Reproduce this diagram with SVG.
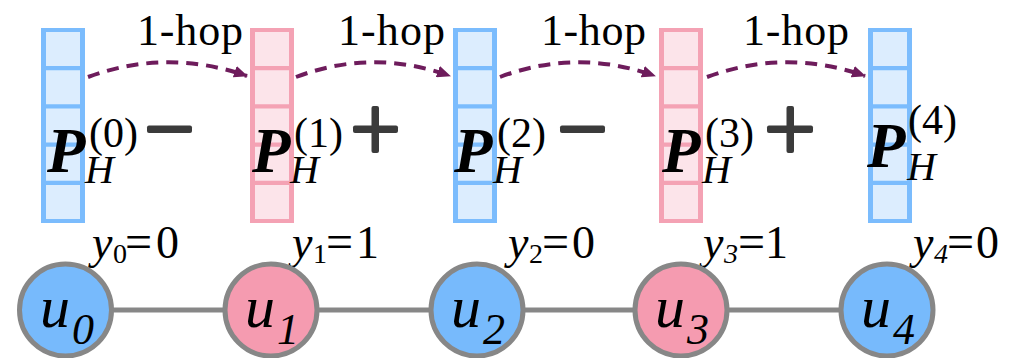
<svg xmlns="http://www.w3.org/2000/svg" width="1030" height="358" viewBox="0 0 1030 358">
<style>
.barB{fill:#7bbcfd}
.barP{fill:#f4a2b4}
.cellB{fill:#dcedfe}
.cellP{fill:#fce4ea}
.arr{fill:none;stroke:#6e1c5c;stroke-width:4;stroke-dasharray:12 8}
.op{fill:#3b3b3b}
.edge{stroke:#878787;stroke-width:5}
.nB{fill:#77bafc;stroke:#878787;stroke-width:5}
.nP{fill:#f59bb0;stroke:#878787;stroke-width:5}
</style>
<defs>
<marker id="ah" viewBox="0 0 14 12" refX="13" refY="6" markerWidth="14" markerHeight="12" markerUnits="userSpaceOnUse" orient="auto">
<path d="M0,0 L14,6 L0,12 z" fill="#6e1c5c"/>
</marker>
<g id="cellsB">
<rect class="cellB" x="5" y="4" width="34" height="34"/>
<rect class="cellB" x="5" y="42.25" width="34" height="34"/>
<rect class="cellB" x="5" y="80.5" width="34" height="34"/>
<rect class="cellB" x="5" y="118.75" width="34" height="34"/>
<rect class="cellB" x="5" y="157" width="34" height="34"/>
</g>
<g id="cellsP">
<rect class="cellP" x="5" y="4" width="34" height="34"/>
<rect class="cellP" x="5" y="42.25" width="34" height="34"/>
<rect class="cellP" x="5" y="80.5" width="34" height="34"/>
<rect class="cellP" x="5" y="118.75" width="34" height="34"/>
<rect class="cellP" x="5" y="157" width="34" height="34"/>
</g>
</defs>

<g id="vec0" transform="translate(41,28)"><rect class="barB" x="0" y="0" width="44" height="195"/><use href="#cellsB"/></g>
<g id="vec1" transform="translate(250,28)"><rect class="barP" x="0" y="0" width="44" height="195"/><use href="#cellsP"/></g>
<g id="vec2" transform="translate(453,28)"><rect class="barB" x="0" y="0" width="44" height="195"/><use href="#cellsB"/></g>
<g id="vec3" transform="translate(659,28)"><rect class="barP" x="0" y="0" width="44" height="195"/><use href="#cellsP"/></g>
<g id="vec4" transform="translate(868,28)"><rect class="barB" x="0" y="0" width="44" height="195"/><use href="#cellsB"/></g>

<g id="connectors">
<path class="arr" d="M88,77 Q167,48 247,76" marker-end="url(#ah)"/>
<path class="arr" d="M296,77 Q373,48 450,76" marker-end="url(#ah)"/>
<path class="arr" d="M500,77 Q577,48 655,76" marker-end="url(#ah)"/>
<path class="arr" d="M707,77 Q786,48 865,76" marker-end="url(#ah)"/>
<line class="edge" x1="112" y1="310" x2="225" y2="310"/>
<line class="edge" x1="317" y1="310" x2="431" y2="310"/>
<line class="edge" x1="523" y1="310" x2="635" y2="310"/>
<line class="edge" x1="727" y1="310" x2="841" y2="310"/>
</g>

<g id="hops">
<text font-family="Liberation Serif" style="font-family:Liberation Serif" font-size="44" x="137" y="45" textLength="106">1-hop</text>
<text font-family="Liberation Serif" style="font-family:Liberation Serif" font-size="44" x="338" y="45" textLength="107">1-hop</text>
<text font-family="Liberation Serif" style="font-family:Liberation Serif" font-size="44" x="541" y="45" textLength="105">1-hop</text>
<text font-family="Liberation Serif" style="font-family:Liberation Serif" font-size="44" x="743" y="45" textLength="106">1-hop</text>
</g>

<g id="label0"><text font-family="Liberation Serif" style="font-family:Liberation Serif"><tspan font-size="63" font-weight="bold" font-style="italic" x="47" y="172">P</tspan><tspan font-size="42" x="89" y="147">(0)</tspan><tspan font-size="40" font-style="italic" x="85" y="183">H</tspan></text></g>
<g id="label1"><text font-family="Liberation Serif" style="font-family:Liberation Serif"><tspan font-size="63" font-weight="bold" font-style="italic" x="252" y="172">P</tspan><tspan font-size="42" x="294" y="147">(1)</tspan><tspan font-size="40" font-style="italic" x="290" y="183">H</tspan></text></g>
<g id="label2"><text font-family="Liberation Serif" style="font-family:Liberation Serif"><tspan font-size="63" font-weight="bold" font-style="italic" x="454" y="172">P</tspan><tspan font-size="42" x="497" y="147">(2)</tspan><tspan font-size="40" font-style="italic" x="493" y="183">H</tspan></text></g>
<g id="label3"><text font-family="Liberation Serif" style="font-family:Liberation Serif"><tspan font-size="63" font-weight="bold" font-style="italic" x="662" y="172">P</tspan><tspan font-size="42" x="705" y="147">(3)</tspan><tspan font-size="40" font-style="italic" x="702" y="183">H</tspan></text></g>
<g id="label4"><text font-family="Liberation Serif" style="font-family:Liberation Serif"><tspan font-size="63" font-weight="bold" font-style="italic" x="867" y="167">P</tspan><tspan font-size="42" x="908" y="134">(4)</tspan><tspan font-size="40" font-style="italic" x="907" y="180">H</tspan></text></g>

<g id="ops">
<rect class="op" x="147" y="125.5" width="45" height="7.5" rx="2"/>
<rect class="op" x="353" y="125.5" width="45" height="7.5" rx="2"/>
<rect class="op" x="371.5" y="106" width="7.5" height="47" rx="2"/>
<rect class="op" x="560" y="125.5" width="45" height="7.5" rx="2"/>
<rect class="op" x="767" y="125.5" width="46" height="7.5" rx="2"/>
<rect class="op" x="786.5" y="106" width="7.5" height="47" rx="2"/>
</g>

<g id="ylabels">
<text font-family="Liberation Serif" style="font-family:Liberation Serif"><tspan font-size="46" font-style="italic" x="92" y="258">y</tspan><tspan font-size="28" x="113" y="263">0</tspan><tspan font-size="48" x="125" y="258">=</tspan><tspan font-size="46" x="156" y="258">0</tspan></text>
<text font-family="Liberation Serif" style="font-family:Liberation Serif"><tspan font-size="46" font-style="italic" x="292" y="258">y</tspan><tspan font-size="28" x="313" y="263">1</tspan><tspan font-size="48" x="326" y="258">=</tspan><tspan font-size="46" x="356" y="258">1</tspan></text>
<text font-family="Liberation Serif" style="font-family:Liberation Serif"><tspan font-size="46" font-style="italic" x="508" y="258">y</tspan><tspan font-size="28" x="529" y="263">2</tspan><tspan font-size="48" x="542" y="258">=</tspan><tspan font-size="46" x="572" y="258">0</tspan></text>
<text font-family="Liberation Serif" style="font-family:Liberation Serif"><tspan font-size="46" font-style="italic" x="703" y="258">y</tspan><tspan font-size="28" font-style="italic" x="724" y="263">3</tspan><tspan font-size="48" x="738" y="258">=</tspan><tspan font-size="46" x="765" y="258">1</tspan></text>
<text font-family="Liberation Serif" style="font-family:Liberation Serif"><tspan font-size="46" font-style="italic" x="913" y="258">y</tspan><tspan font-size="28" font-style="italic" x="934" y="263">4</tspan><tspan font-size="48" x="947" y="258">=</tspan><tspan font-size="46" x="976" y="258">0</tspan></text>
</g>

<g id="u0"><circle class="nB" cx="65.5" cy="310" r="46"/><text font-family="Liberation Serif" style="font-family:Liberation Serif" font-style="italic"><tspan font-size="60" x="40" y="327">u</tspan><tspan font-size="44" x="72" y="344">0</tspan></text></g>
<g id="u1"><circle class="nP" cx="271" cy="310" r="46"/><text font-family="Liberation Serif" style="font-family:Liberation Serif" font-style="italic"><tspan font-size="60" x="245" y="327">u</tspan><tspan font-size="44" x="277" y="344">1</tspan></text></g>
<g id="u2"><circle class="nB" cx="477" cy="310" r="46"/><text font-family="Liberation Serif" style="font-family:Liberation Serif" font-style="italic"><tspan font-size="60" x="451" y="327">u</tspan><tspan font-size="44" x="483" y="344">2</tspan></text></g>
<g id="u3"><circle class="nP" cx="681" cy="310" r="46"/><text font-family="Liberation Serif" style="font-family:Liberation Serif" font-style="italic"><tspan font-size="60" x="655" y="327">u</tspan><tspan font-size="44" x="687" y="344">3</tspan></text></g>
<g id="u4"><circle class="nB" cx="887" cy="310" r="46"/><text font-family="Liberation Serif" style="font-family:Liberation Serif" font-style="italic"><tspan font-size="60" x="861" y="327">u</tspan><tspan font-size="44" x="893" y="344">4</tspan></text></g>
</svg>
